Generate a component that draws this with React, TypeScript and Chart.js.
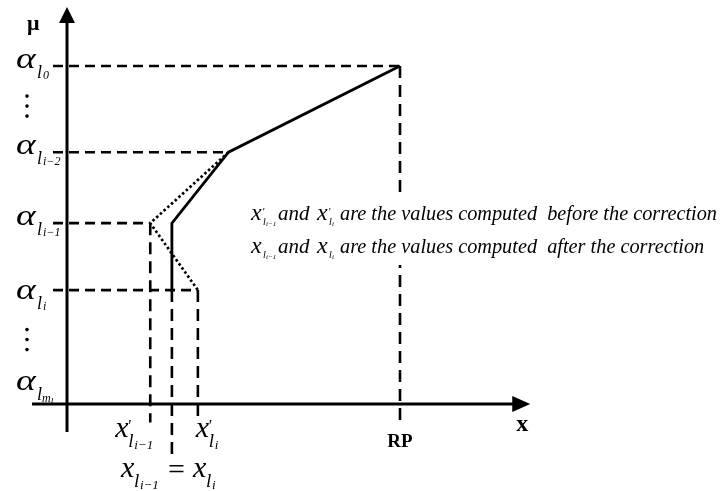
import React, { useEffect, useRef } from "react";
import { Chart, registerables } from "chart.js";

Chart.register(...registerables);

// ---- data (diagram units) ----
// x positions
const RP = 10;
const xKnee = 4.85;
const xPrimePrev = 2.5; // x'_{l_{i-1}}
const xCorr = 3.15; // x_{l_{i-1}} = x_{l_i}
const xPrimeCur = 3.93; // x'_{l_i}
// membership levels
const alpha0 = 1.0;
const alphaIm2 = 0.745;
const alphaIm1 = 0.535;
const alphaI = 0.337;
const alphaMl = 0.05;
// extents
const xAxisStart = -1.05;
const xAxisEnd = 13.4;
const yAxisStart = -0.083;
const yAxisEnd = 1.13;
const dashLeft = -0.42;
const dropShort = -0.055;
const dropLong = -0.16;

const solidX = [RP, xKnee, xCorr, xCorr];
const solidY = [alpha0, alphaIm2, alphaIm1, alphaI];
const dottedX = [xKnee, xPrimePrev, xPrimeCur];
const dottedY = [alphaIm2, alphaIm1, alphaI];

const NOTE_BEFORE = "are the values computed  before the correction";
const NOTE_AFTER = "are the values computed  after the correction";

const FONT = '"Liberation Serif", "Times New Roman", "DejaVu Serif", serif';

function pts(xs: number[], ys: number[]) {
  return xs.map((x, i) => ({ x, y: ys[i] }));
}

function drawText(
  ctx: CanvasRenderingContext2D,
  s: string,
  x: number,
  y: number,
  size: number,
  opts: { italic?: boolean; bold?: boolean; sx?: number; align?: CanvasTextAlign } = {}
) {
  const { italic = true, bold = false, sx = 1, align = "left" } = opts;
  ctx.save();
  ctx.font = `${italic ? "italic " : ""}${bold ? "bold " : ""}${size}px ${FONT}`;
  ctx.textAlign = align;
  ctx.textBaseline = "alphabetic";
  ctx.fillStyle = "#000";
  ctx.translate(x, y);
  ctx.scale(sx, 1);
  ctx.fillText(s, 0, 0);
  const w = ctx.measureText(s).width * sx;
  ctx.restore();
  return w;
}

const labelPlugin = {
  id: "labels",
  afterDraw(chart: any) {
    const ctx: CanvasRenderingContext2D = chart.ctx;
    const xs = chart.scales.x;
    const ys = chart.scales.y;
    const px = (v: number) => xs.getPixelForValue(v);
    const py = (v: number) => ys.getPixelForValue(v);

    ctx.save();
    ctx.fillStyle = "#000";
    // arrowheads
    const ox = px(0);
    const tipY = py(yAxisEnd) - 15;
    ctx.beginPath();
    ctx.moveTo(ox, tipY);
    ctx.lineTo(ox - 8, py(yAxisEnd) + 1);
    ctx.lineTo(ox + 8, py(yAxisEnd) + 1);
    ctx.closePath();
    ctx.fill();
    const oy = py(0);
    const tipX = px(xAxisEnd) + 17;
    ctx.beginPath();
    ctx.moveTo(tipX, oy);
    ctx.lineTo(px(xAxisEnd) - 1, oy - 8);
    ctx.lineTo(px(xAxisEnd) - 1, oy + 8);
    ctx.closePath();
    ctx.fill();
    ctx.restore();

    // axis titles
    drawText(ctx, "μ", 27, 30, 22, { italic: false, bold: true });
    drawText(ctx, "x", tipX - 8, oy + 27, 24, { italic: false, bold: true, align: "center" });
    drawText(ctx, "RP", px(RP), oy + 43, 19, { italic: false, bold: true, align: "center" });

    // alpha labels
    const alphaLabel = (lvl: number, sub: string, dy = 0) => {
      const b = py(lvl) + 2 + dy;
      drawText(ctx, "α", 16, b, 29, { sx: 1.3 });
      drawText(ctx, "l", 37, b + 10, 18);
      drawText(ctx, sub, 43, b + 11, 12);
    };
    alphaLabel(alpha0, "0");
    alphaLabel(alphaIm2, "i−2");
    alphaLabel(alphaIm1, "i−1");
    alphaLabel(alphaI, "i", 7);
    // alpha_{l_{m_l}}
    {
      const b = py(alphaMl) + 3;
      drawText(ctx, "α", 16, b, 29, { sx: 1.3 });
      drawText(ctx, "l", 37, b + 10, 18);
      const w = drawText(ctx, "m", 42, b + 12, 12);
      drawText(ctx, "l", 42 + w, b + 14, 9);
    }
    // vertical ellipses
    const dots = (cy: number) => {
      ctx.save();
      ctx.fillStyle = "#000";
      for (let k = -1; k <= 1; k++) {
        ctx.beginPath();
        ctx.arc(27, cy + k * 10, 1.8, 0, Math.PI * 2);
        ctx.fill();
      }
      ctx.restore();
    };
    dots((py(alpha0) + py(alphaIm2)) / 2 - 3);
    dots((py(alphaI) + py(alphaMl)) / 2 + 1);

    // bottom x labels
    const xLabel = (cx: number, base: number, prime: boolean, sub: string) => {
      const x0 = cx;
      drawText(ctx, "x", x0, base, 30);
      if (prime) drawText(ctx, "'", x0 + 12, base - 6, 16);
      drawText(ctx, "l", x0 + 13, base + 10, 19);
      drawText(ctx, sub, x0 + 19, base + 12, 13);
    };
    xLabel(px(xPrimePrev) - 35, oy + 33, true, "i−1");
    xLabel(px(xPrimeCur) - 2, oy + 33, true, "i");
    xLabel(px(xCorr) - 51, oy + 73, false, "i−1");
    drawText(ctx, "=", px(xCorr) - 4, oy + 75, 30, { italic: false });
    xLabel(px(xCorr) + 21, oy + 73, false, "i");

    // note text box (white background hides the RP drop line)
    ctx.save();
    ctx.fillStyle = "#fff";
    ctx.fillRect(244, 197, 476, 68);
    ctx.restore();
    const noteLine = (base: number, prime: boolean, rest: string) => {
      const x0 = 251;
      const inline = (xx: number) => {
        drawText(ctx, "x", xx, base, 24);
        if (prime) drawText(ctx, "'", xx + 11, base - 5, 11);
        drawText(ctx, "l", xx + 12, base + 5, 10);
      };
      inline(x0);
      drawText(ctx, "i−1", x0 + 15, base + 6, 7);
      drawText(ctx, "and", x0 + 27, base, 20, { sx: 1.05 });
      inline(x0 + 66);
      drawText(ctx, "i", x0 + 81, base + 6, 7);
      ctx.save();
      ctx.font = `italic 20px ${FONT}`;
      const w = ctx.measureText(NOTE_BEFORE).width;
      ctx.restore();
      const sx = (717 - 340) / w;
      drawText(ctx, rest, 340, base, 20, { sx });
    };
    noteLine(220, true, NOTE_BEFORE);
    noteLine(253, false, NOTE_AFTER);
  },
};

export default function App() {
  const ref = useRef<HTMLCanvasElement | null>(null);
  useEffect(() => {
    if (!ref.current) return;
    const solid = { borderColor: "#000", borderWidth: 2.8, pointRadius: 0, showLine: true, fill: false };
    const dash = { borderColor: "#000", borderWidth: 2.6, pointRadius: 0, showLine: true, fill: false, borderDash: [10, 6] };
    const vdash = [12, 7];
    const chart = new Chart(ref.current, {
      type: "scatter",
      data: {
        datasets: [
          { ...solid, borderWidth: 3, data: pts([xAxisStart, xAxisEnd], [0, 0]) },
          { ...solid, borderWidth: 3, data: pts([0, 0], [yAxisStart, yAxisEnd]) },
          { ...dash, data: pts([dashLeft, RP], [alpha0, alpha0]) },
          { ...dash, data: pts([dashLeft, xKnee], [alphaIm2, alphaIm2]) },
          { ...dash, data: pts([dashLeft, xPrimePrev], [alphaIm1, alphaIm1]) },
          { ...dash, data: pts([dashLeft, xPrimeCur], [alphaI, alphaI]) },
          { ...dash, borderDash: vdash, data: pts([RP, RP], [alpha0, dropShort]) },
          { ...dash, borderDash: vdash, data: pts([xPrimePrev, xPrimePrev], [alphaIm1, dropShort]) },
          { ...dash, borderDash: vdash, data: pts([xCorr, xCorr], [alphaI, dropLong]) },
          { ...dash, borderDash: vdash, data: pts([xPrimeCur, xPrimeCur], [alphaI, dropShort]) },
          { ...solid, data: pts(solidX, solidY) },
          { ...solid, borderWidth: 2.7, borderDash: [2.5, 2.5], data: pts(dottedX, dottedY) },
        ],
      },
      options: {
        responsive: false,
        animation: false,
        layout: { padding: 0 },
        plugins: { legend: { display: false }, tooltip: { enabled: false }, title: { display: false } },
        scales: {
          x: { type: "linear", display: false, min: -67 / 33.3, max: (720 - 67) / 33.3 },
          y: { type: "linear", display: false, min: -87 / 338, max: 404 / 338 },
        },
      },
      plugins: [labelPlugin],
    });
    return () => chart.destroy();
  }, []);
  return (
    <div style={{ position: "fixed", left: 0, top: 0, width: 720, height: 491, background: "#fff" }}>
      <canvas ref={ref} width={720} height={491} style={{ width: 720, height: 491 }} />
    </div>
  );
}
